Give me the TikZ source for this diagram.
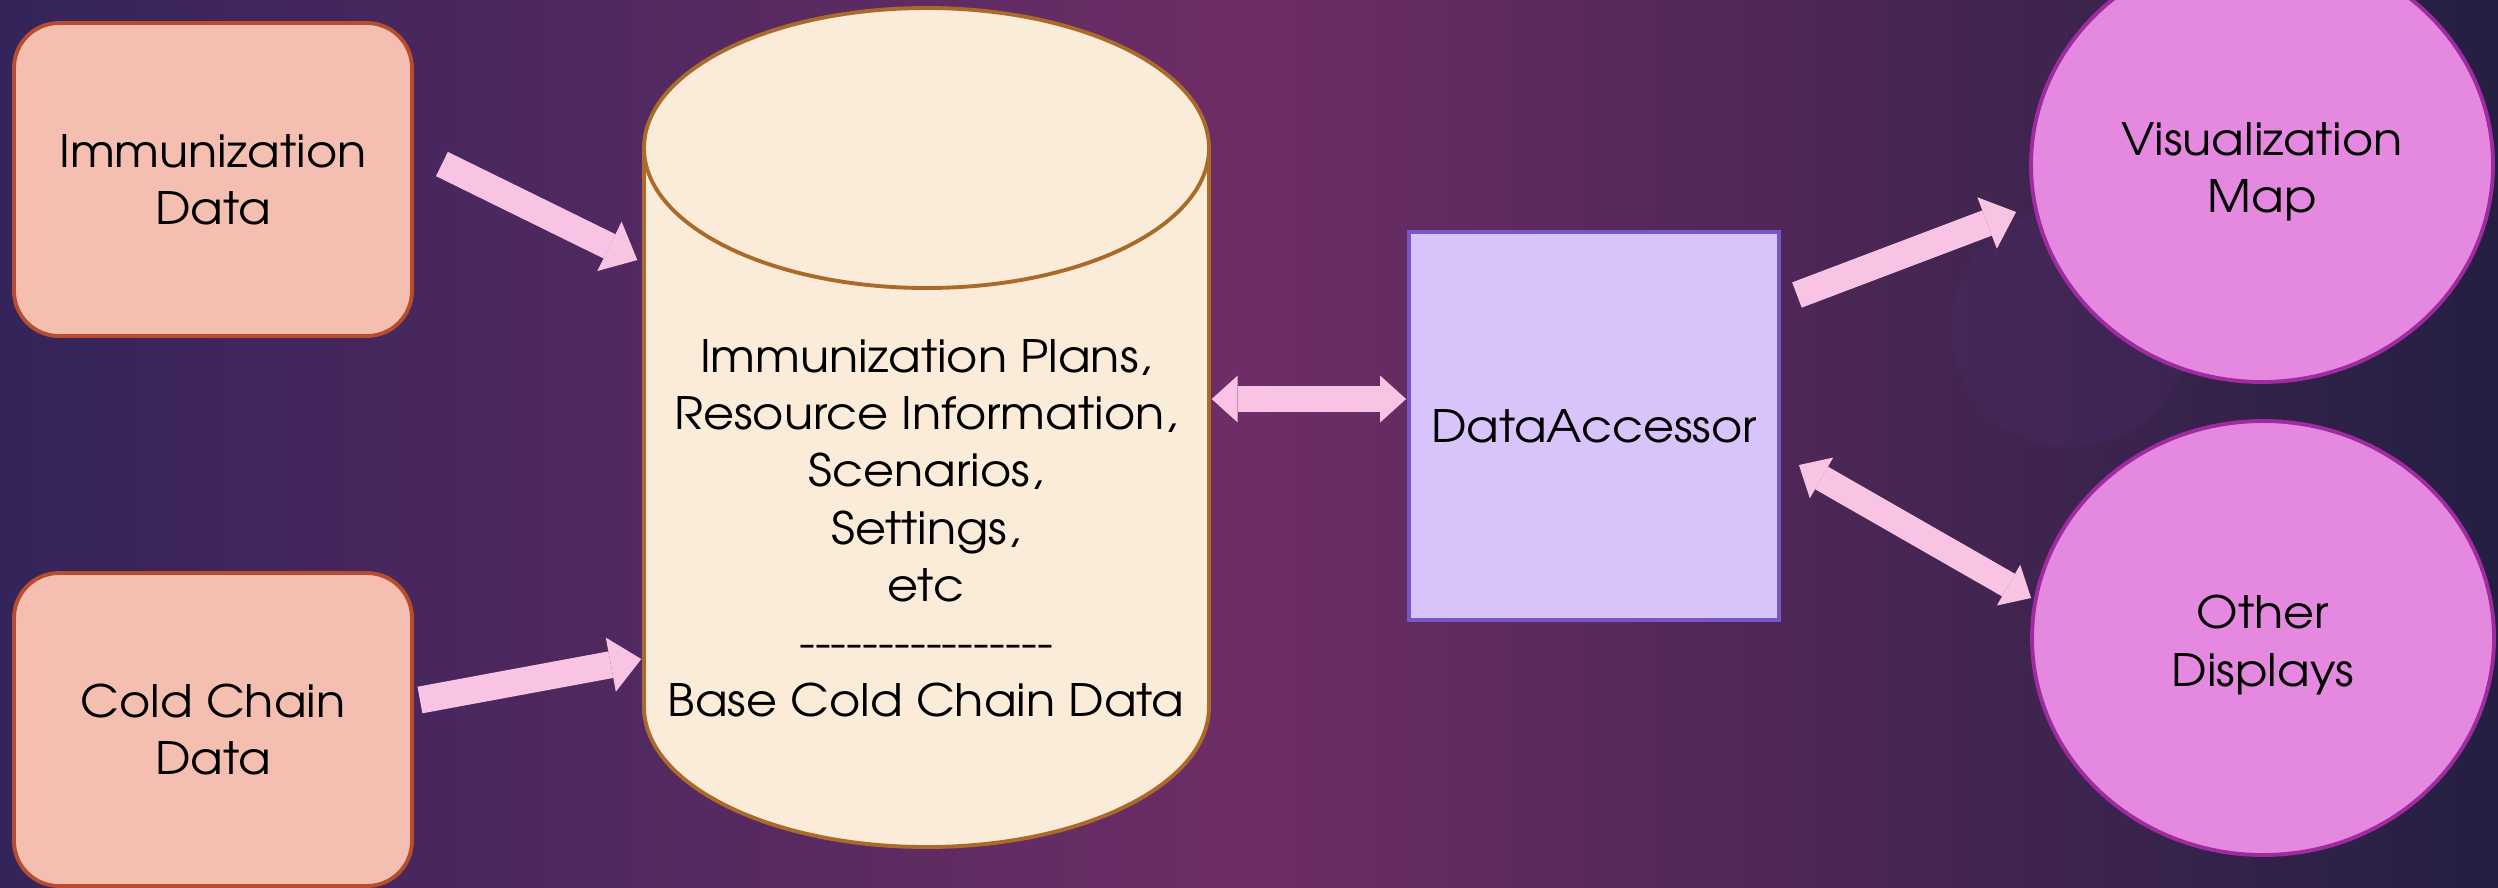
\documentclass[tikz,border=0pt]{standalone}
\usepackage{fontspec}
\setmainfont{TeX Gyre Adventor}[FakeStretch=1.07]
\usetikzlibrary{arrows.meta,shapes.geometric}
\definecolor{bgleft}{RGB}{52,36,90}
\definecolor{bgmid}{RGB}{110,45,102}
\definecolor{bgright}{RGB}{36,31,66}
\definecolor{ghost}{RGB}{72,44,104}
\definecolor{datafill}{RGB}{244,191,176}
\definecolor{dataline}{RGB}{184,76,46}
\definecolor{storefill}{RGB}{251,235,217}
\definecolor{storeline}{RGB}{170,106,42}
\definecolor{accfill}{RGB}{216,196,250}
\definecolor{accline}{RGB}{118,88,196}
\definecolor{viewfill}{RGB}{228,136,224}
\definecolor{viewline}{RGB}{160,42,160}
\definecolor{arrowpink}{RGB}{249,196,227}

\begin{document}
\begin{tikzpicture}[x=0.1mm, y=-0.1mm,
    font=\fontsize{12.7}{16.3}\selectfont,
    databox/.style={draw=dataline, fill=datafill, line width=1.1pt, rounded corners=4.5mm,
        minimum width=39.8mm, minimum height=31.3mm, align=center},
    viewbox/.style={ellipse, draw=viewline, fill=viewfill, line width=1.1pt,
        minimum width=46.2mm, minimum height=43.4mm, inner sep=0pt},
    viewtext/.style={align=center, yshift=-0.7mm},
    fatarrow/.style={draw=arrowpink, line width=2.7mm,
        -{Triangle[length=3.1mm, width=5.5mm, line width=0pt]}},
    fatboth/.style={draw=arrowpink, line width=2.6mm,
        {Triangle[length=2.6mm, width=4.7mm, line width=0pt]}-{Triangle[length=2.6mm, width=4.7mm, line width=0pt]}}
]
    % Fondo
    \useasboundingbox (0,0) rectangle (2498,887);
    \shade[left color=bgleft, right color=bgright, middle color=bgmid] (0,0) rectangle (2498,887);
    \fill[ghost, opacity=0.3] (2071,327) circle [radius=120];

    % Fuentes de datos
    \node[databox] (immdata) at (213,179.5) {Immunization\\Data};
    \node[databox] (colddata) at (213,729.5) {Cold Chain\\Data};

    % Almacen (cilindro)
    \node[minimum width=56.5mm, minimum height=83.9mm, inner sep=0pt] (store) at (926.5,427.5) {};
    \draw[storeline, fill=storefill, line width=1.1pt] (644,148) -- (644,707)
        arc[start angle=180, end angle=0, x radius=282.5, y radius=140] -- (1209,148);
    \draw[storeline, fill=storefill, line width=1.1pt] (926.5,148) ellipse [x radius=282.5, y radius=140];
    \node[align=center] (storetxt) at (926,528) {Immunization Plans,\\Resource Information,\\Scenarios,\\Settings,\\etc\\
        -{}-{}-{}-{}-{}-{}-{}-{}-{}-{}-{}-{}-{}-{}-{}-\\Base Cold Chain Data};

    % Acceso a datos
    \node[draw=accline, fill=accfill, line width=1.1pt, minimum width=37mm, minimum height=38.8mm] (acc) at (1594,426) {DataAccessor};

    % Salidas
    \node[viewbox, label={[viewtext]center:{Visualization\\Map}}] (vismap) at (2262,165) {};
    \node[viewbox, label={[viewtext]center:{Other\\Displays}}] (otherdisp) at (2263,638) {};

    % Flechas
    \draw[fatarrow] ([shift={(28,-15.5)}]immdata.east) -- ([shift={(-6,-167.5)}]store.west);
    \draw[fatarrow] ([shift={(6,-29.5)}]colddata.east) -- ([shift={(-2,231.5)}]store.west);
    \draw[fatboth] ([shift={(2,-28.5)}]store.east) -- ([shift={(-1,-27)}]acc.west);
    \draw[fatarrow] ([shift={(16,-131)}]acc.east) -- ([shift={(-13,47)}]vismap.west);
    \draw[fatboth] ([shift={(18,39)}]acc.east) -- ([shift={(1,-40)}]otherdisp.west);
\end{tikzpicture}
\end{document}
